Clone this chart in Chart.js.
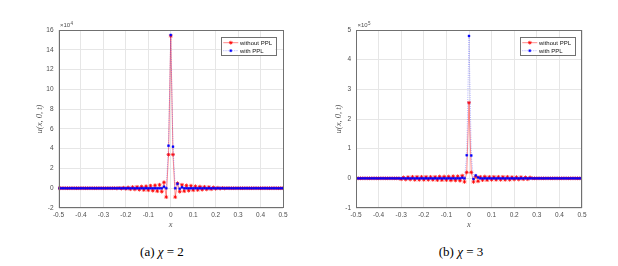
<!DOCTYPE html>
<html>
<head>
<meta charset="utf-8">
<script src="https://cdn.jsdelivr.net/npm/chart.js@4.4.1/dist/chart.umd.min.js"></script>
<style>
    body { margin: 0; background: #fff; width: 618px; height: 266px; position: relative; overflow: hidden; }
    canvas { position: absolute; top: 0; }
    .cap { position: absolute; top: 244px; line-height: 15px; font-family: "Liberation Serif", "Times New Roman", serif; font-size: 13px; color: #000; transform: translateX(-50%); white-space: nowrap; }
</style>
</head>
<body>
<canvas id="chi2" width="300" height="232" style="left:0"></canvas>
<canvas id="chi3" width="300" height="232" style="left:300px"></canvas>
<div class="cap" style="left:162px">(a) <i>χ</i> = 2</div>
<div class="cap" style="left:461px">(b) <i>χ</i> = 3</div>
<script>
(() => {
    // x grid (shared by both panels)
    const xGrid = [
        -0.50, -0.49, -0.48, -0.47, -0.46, -0.45, -0.44, -0.43, -0.42, -0.41,
        -0.40, -0.39, -0.38, -0.37, -0.36, -0.35, -0.34, -0.33, -0.32, -0.31,
        -0.30, -0.29, -0.28, -0.27, -0.26, -0.25, -0.24, -0.23, -0.22, -0.21,
        -0.20, -0.19, -0.18, -0.17, -0.16, -0.15, -0.14, -0.13, -0.12, -0.11,
        -0.10, -0.09, -0.08, -0.07, -0.06, -0.05, -0.04, -0.03, -0.02, -0.01,
        0,
        0.01, 0.02, 0.03, 0.04, 0.05, 0.06, 0.07, 0.08, 0.09, 0.10,
        0.11, 0.12, 0.13, 0.14, 0.15, 0.16, 0.17, 0.18, 0.19, 0.20,
        0.21, 0.22, 0.23, 0.24, 0.25, 0.26, 0.27, 0.28, 0.29, 0.30,
        0.31, 0.32, 0.33, 0.34, 0.35, 0.36, 0.37, 0.38, 0.39, 0.40,
        0.41, 0.42, 0.43, 0.44, 0.45, 0.46, 0.47, 0.48, 0.49, 0.50
    ];
    const xTicks = [-0.5, -0.4, -0.3, -0.2, -0.1, 0, 0.1, 0.2, 0.3, 0.4, 0.5];

    // (a) chi = 2, values in units of 1e4
    const withoutPplChi2 = [
        0, 0, 0, 0, 0, 0, 0, 0, 0, 0,
        0, 0, 0, 0, 0, 0, 0, 0, 0, 0,
        0, 0, 0, 0, 0, 0.01, -0.02, 0.03, -0.04, 0.05,
        -0.06, 0.08, -0.1, 0.12, -0.12, 0.14, -0.15, 0.17, -0.18, 0.2,
        -0.2, 0.25, -0.25, 0.3, -0.3, 0.35, -0.35, 0.6, -0.9, 3.4,
        15.4,
        3.4, -0.9, 0.5, -0.35, 0.35, -0.3, 0.28, -0.25, 0.25, -0.2,
        0.2, -0.18, 0.17, -0.15, 0.14, -0.12, 0.12, -0.1, 0.08, -0.06,
        0.05, -0.04, 0.03, -0.02, 0.01, 0, 0, 0, 0, 0,
        0, 0, 0, 0, 0, 0, 0, 0, 0, 0,
        0, 0, 0, 0, 0, 0, 0, 0, 0, 0
    ];
    const withPplChi2 = [
        0, 0, 0, 0, 0, 0, 0, 0, 0, 0,
        0, 0, 0, 0, 0, 0, 0, 0, 0, 0,
        0, 0, 0, 0, 0, 0, 0, 0, 0, 0,
        0, 0, 0, 0, 0, 0, 0, 0, 0, 0,
        0, 0, 0, 0, 0, 0, 0, 0.15, 0, 4.3,
        15.5,
        4.2, 0, 0.45, -0.05, 0.1, 0, 0, 0, 0, 0,
        0, 0, 0, 0, 0, 0, 0, 0, 0, 0,
        0, 0, 0, 0, 0, 0, 0, 0, 0, 0,
        0, 0, 0, 0, 0, 0, 0, 0, 0, 0,
        0, 0, 0, 0, 0, 0, 0, 0, 0, 0
    ];
    const yTicksChi2 = [-2, 0, 2, 4, 6, 8, 10, 12, 14, 16];

    // (b) chi = 3, values in units of 1e5
    const withoutPplChi3 = [
        0, 0, 0, 0, 0, 0, 0, 0, 0, 0,
        0, 0, 0, 0, 0, 0, 0, 0, 0, 0,
        -0.03, 0.03, -0.04, 0.04, -0.04, 0.05, -0.05, 0.05, -0.05, 0.05,
        -0.05, 0.05, -0.05, 0.05, -0.05, 0.05, -0.06, 0.06, -0.06, 0.06,
        -0.06, 0.06, -0.07, 0.07, -0.07, 0.07, -0.08, 0.09, -0.12, 0.2,
        2.55,
        0.2, -0.12, 0.06, -0.1, 0.05, -0.06, 0.06, -0.06, 0.05, -0.05,
        0.05, -0.05, 0.05, -0.05, 0.05, -0.05, 0.05, -0.05, 0.04, -0.04,
        0.04, -0.04, 0.04, -0.03, 0.03, -0.03, 0.03, 0, 0, 0,
        0, 0, 0, 0, 0, 0, 0, 0, 0, 0,
        0, 0, 0, 0, 0, 0, 0, 0, 0, 0
    ];
    const withPplChi3 = [
        0, 0, 0, 0, 0, 0, 0, 0, 0, 0,
        0, 0, 0, 0, 0, 0, 0, 0, 0, 0,
        0, 0, 0, 0, 0, 0, 0, 0, 0, 0,
        0, 0, 0, 0, 0, 0, 0, 0, 0, 0,
        0, 0, 0, 0, 0, 0, 0, 0.02, 0, 0.78,
        4.8,
        0.77, -0.02, 0.1, 0.03, 0, 0, 0, 0, 0, 0,
        0, 0, 0, 0, 0, 0, 0, 0, 0, 0,
        0, 0, 0, 0, 0, 0, 0, 0, 0, 0,
        0, 0, 0, 0, 0, 0, 0, 0, 0, 0,
        0, 0, 0, 0, 0, 0, 0, 0, 0, 0
    ];
    const yTicksChi3 = [-1, 0, 1, 2, 3, 4, 5];

    const seriesNames = ['without PPL', 'with PPL'];

    const tickFont = { family: '"Liberation Sans", Arial, sans-serif', size: 6.5 };
    const tickColor = '#4d4d4d';
    const gridColor = '#e6e6e6';

    // box, exponent, axis titles and inset legend, MATLAB style
    const figureFrame = {
        id: 'figureFrame',
        afterDatasetsDraw(chart, args, opts) {
            const { ctx, chartArea: a } = chart;
            ctx.save();
            ctx.strokeStyle = '#707070';
            ctx.lineWidth = 1;
            ctx.strokeRect(Math.round(a.left) + 0.5, Math.round(a.top) + 0.5,
                Math.round(a.right - a.left) - 1, Math.round(a.bottom - a.top) - 1);

            ctx.fillStyle = tickColor;
            ctx.textAlign = 'left';
            ctx.textBaseline = 'alphabetic';
            ctx.font = '6px "Liberation Sans"';
            ctx.fillText('×10', a.left + 1.5, a.top - 3);
            const w = ctx.measureText('×10').width;
            ctx.font = '4.5px "Liberation Sans"';
            ctx.fillText(opts.exponent, a.left + 1.8 + w, a.top - 5.5);

            ctx.fillStyle = '#555';
            ctx.font = 'italic 8.5px "Liberation Serif"';
            ctx.textAlign = 'center';
            ctx.textBaseline = 'middle';
            ctx.fillText('x', (a.left + a.right) / 2, a.bottom + 17);
            ctx.save();
            ctx.translate(opts.yTitleX, (a.top + a.bottom) / 2);
            ctx.rotate(-Math.PI / 2);
            ctx.fillText('u(x, 0, t)', 0, 0);
            ctx.restore();

            // legend box
            const bw = 54.6, bh = 18;
            const bx = a.right - 7.7 - bw, by = a.top + 7.3;
            ctx.fillStyle = '#fff';
            ctx.fillRect(bx, by, bw, bh);
            ctx.strokeStyle = '#707070';
            ctx.strokeRect(Math.round(bx) + 0.5, Math.round(by) + 0.5, Math.round(bw), Math.round(bh));
            chart.data.datasets.forEach((ds, row) => {
                const y = by + 5.4 + row * 8;
                ctx.strokeStyle = ds.borderColor;
                ctx.lineWidth = ds.borderWidth;
                ctx.setLineDash(ds.borderDash || []);
                ctx.beginPath();
                ctx.moveTo(bx + 2.6, y);
                ctx.lineTo(bx + 17.6, y);
                ctx.stroke();
                ctx.setLineDash([]);
                ctx.fillStyle = ds.pointBackgroundColor;
                ctx.strokeStyle = ds.pointBorderColor;
                ctx.lineWidth = ds.pointBorderWidth;
                Chart.helpers.drawPoint(ctx, {
                    pointStyle: ds.pointStyle, radius: ds.pointRadius,
                    rotation: 0, borderWidth: ds.pointBorderWidth
                }, bx + 10.1, y);
                ctx.fillStyle = '#111';
                ctx.font = '6px "Liberation Sans"';
                ctx.textAlign = 'left';
                ctx.fillText(ds.label, bx + 19.3, y + 0.3);
            });
            ctx.restore();
        }
    };

    function createDataset(label, values, isPpl) {
        const points = xGrid.map((x, i) => ({ x: x, y: values[i] }));
        if (isPpl) {
            return {
                label: label, data: points, order: 0,
                borderColor: 'rgba(70,70,255,0.55)', borderWidth: 0.8, borderDash: [1, 1.2],
                pointStyle: 'rect', pointRadius: 1.4, pointBorderWidth: 0.4,
                pointBackgroundColor: '#0000ff', pointBorderColor: '#0000ff',
                tension: 0
            };
        }
        return {
            label: label, data: points, order: 1,
            borderColor: 'rgba(255,40,40,0.6)', borderWidth: 0.9,
            pointStyle: 'star', pointRadius: 1.9, pointBorderWidth: 0.8,
            pointBackgroundColor: '#ff0000', pointBorderColor: '#ff0000',
            tension: 0
        };
    }

    function createConfig(withoutPpl, withPpl, yTicks, exponent, yAxisWidth, rightPad, yTitleX) {
        return {
            type: 'line',
            data: {
                datasets: [
                    createDataset(seriesNames[0], withoutPpl, false),
                    createDataset(seriesNames[1], withPpl, true)
                ]
            },
            options: {
                responsive: false,
                animation: false,
                devicePixelRatio: 1,
                layout: { padding: { top: 30, right: rightPad, left: 0, bottom: 0 } },
                plugins: {
                    legend: { display: false },
                    tooltip: { enabled: false },
                    figureFrame: { exponent: exponent, yTitleX: yTitleX }
                },
                scales: {
                    x: {
                        type: 'linear',
                        min: xTicks[0],
                        max: xTicks[xTicks.length - 1],
                        afterBuildTicks: scale => { scale.ticks = xTicks.map(v => ({ value: v })); },
                        afterFit: scale => { scale.height = 24; },
                        grid: { color: gridColor, drawTicks: false },
                        border: { display: false },
                        ticks: {
                            font: tickFont, color: tickColor, padding: 3, maxRotation: 0, autoSkip: false,
                            callback: v => { const r = Math.round(v * 10) / 10; return r === 0 ? '0' : String(r); }
                        }
                    },
                    y: {
                        min: yTicks[0],
                        max: yTicks[yTicks.length - 1],
                        afterBuildTicks: scale => { scale.ticks = yTicks.map(v => ({ value: v })); },
                        afterFit: scale => { scale.width = yAxisWidth; },
                        grid: { color: gridColor, drawTicks: false },
                        border: { display: false },
                        ticks: { font: tickFont, color: tickColor, padding: 5, autoSkip: false, callback: v => String(v) }
                    }
                }
            },
            plugins: [figureFrame]
        };
    }

    new Chart(document.getElementById('chi2').getContext('2d'),
        createConfig(withoutPplChi2, withPplChi2, yTicksChi2, '4', 58.5, 17, 40));
    new Chart(document.getElementById('chi3').getContext('2d'),
        createConfig(withoutPplChi3, withPplChi3, yTicksChi3, '5', 56, 18, 39));
})();
</script>
</body>
</html>
